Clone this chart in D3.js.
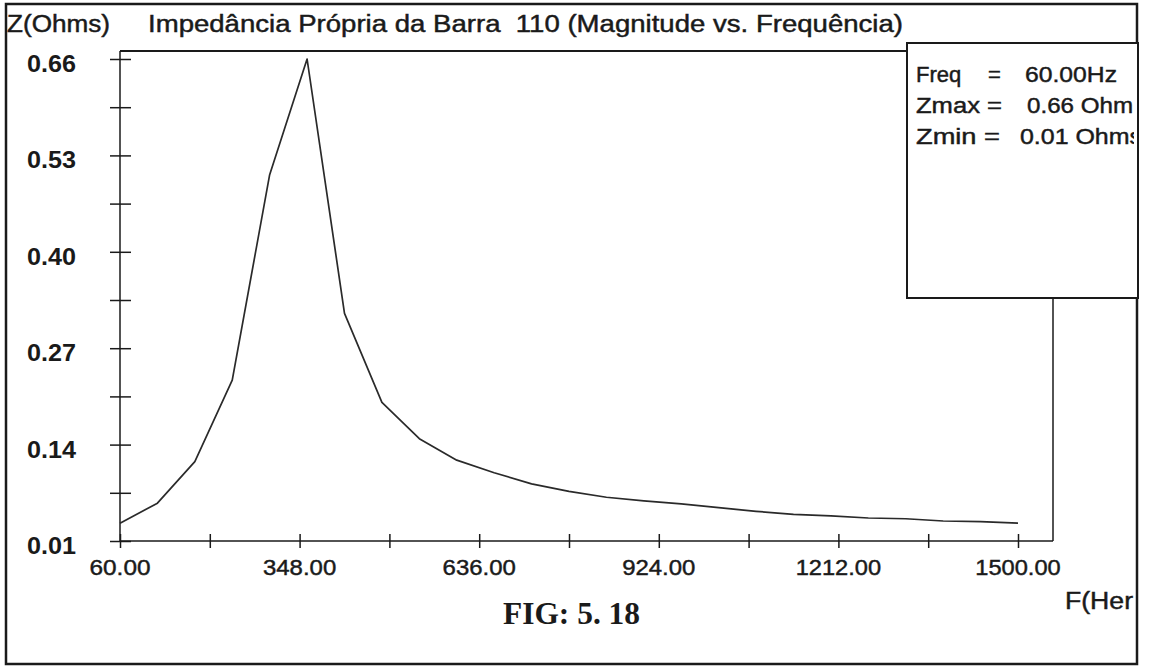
<!DOCTYPE html>
<html><head><meta charset="utf-8">
<script src="https://cdn.jsdelivr.net/npm/d3@7/dist/d3.min.js"></script>
<style>
html,body{margin:0;padding:0;background:#fff;}
svg{display:block;}
text{font-family:"Liberation Sans",Arial,sans-serif;fill:#1a1a1a;white-space:pre;}
.thick{stroke:#1a1a1a;stroke-width:0.45px;}
</style></head>
<body>
<svg id="chart" width="1153" height="668"></svg>
<script>
// ---- data ----
const freqs = [60,120,180,240,300,360,420,480,540,600,660,720,780,840,900,960,1020,1080,1140,1200,1260,1320,1380,1440,1500];
const zvals = [0.034,0.061,0.117,0.227,0.504,0.66,0.317,0.197,0.148,0.119,0.102,0.087,0.077,0.069,0.064,0.060,0.055,0.050,0.046,0.044,0.041,0.040,0.037,0.036,0.034];
const yTickLabels = ["0.01","0.14","0.27","0.40","0.53","0.66"];
const xTickLabels = ["60.00","348.00","636.00","924.00","1212.00","1500.00"];
const titleText = "Impedância Própria da Barra  110 (Magnitude vs. Frequência)";
const yTitle = "Z(Ohms)";
const xTitle = "F(Her";
const figText = "FIG: 5. 18";
const legendRows = [["Freq","=","60.00Hz"],["Zmax =","","0.66 Ohm"],["Zmin =","","0.01 Ohms"]];

const svg = d3.select("#chart");
const ink = "#1a1a1a";

const x = d3.scaleLinear().domain([60,1500]).range([120,1018]);
const y = d3.scaleLinear().domain([0.01,0.66]).range([541,59]);

// outer border
svg.append("rect").attr("x",6).attr("y",4).attr("width",1131).attr("height",660)
  .attr("fill","none").attr("stroke",ink).attr("stroke-width",2.5);

// plot frame: top and right
svg.append("line").attr("x1",120).attr("x2",907).attr("y1",51).attr("y2",51).attr("stroke",ink).attr("stroke-width",2);
svg.append("line").attr("x1",1053).attr("x2",1053).attr("y1",298).attr("y2",541).attr("stroke",ink).attr("stroke-width",1.5);

// y axis
const yTicks = d3.range(11).map(i => 0.01 + i*0.065);
const yAxis = d3.axisLeft(y).tickValues(yTicks).tickSize(0).tickFormat("");
const gy = svg.append("g").attr("transform","translate(120,0)").call(yAxis);
gy.select(".domain").attr("stroke",ink).attr("stroke-width",1.5).attr("d","M0,51V541");
gy.selectAll(".tick line").attr("x1",-10).attr("x2",11).attr("stroke",ink).attr("stroke-width",1.5);
yTickLabels.forEach((t)=>{
  svg.append("text").attr("x",76).attr("y",y(+t)+13).attr("text-anchor","end")
    .attr("font-size",23).attr("font-weight","bold").attr("textLength",49).attr("lengthAdjust","spacingAndGlyphs").text(t);
});

// x axis
const xTicks = d3.range(11).map(i => 60 + i*144);
const xAxis = d3.axisBottom(x).tickValues(xTicks).tickSize(0).tickFormat("");
const gx = svg.append("g").attr("transform","translate(0,541)").call(xAxis);
gx.select(".domain").attr("stroke",ink).attr("stroke-width",1.5).attr("d","M120,0H1053");
gx.selectAll(".tick line").attr("y1",-7).attr("y2",7).attr("stroke",ink).attr("stroke-width",1.5);
xTickLabels.forEach((t)=>{
  svg.append("text").attr("class","thick").attr("x",x(+t)).attr("y",575).attr("text-anchor","middle")
    .attr("font-size",22).attr("textLength",t.length*12.2).attr("lengthAdjust","spacingAndGlyphs").text(t);
});

// curve
const line = d3.line().x((d,i)=>x(freqs[i])).y(d=>y(d));
svg.append("path").datum(zvals).attr("d",line).attr("fill","none")
  .attr("stroke","#2a2a2a").attr("stroke-width",1.7).attr("stroke-linejoin","round");

// titles
svg.append("text").attr("class","thick").attr("x",7).attr("y",32).attr("font-size",23).attr("textLength",103).attr("lengthAdjust","spacingAndGlyphs").text(yTitle);
svg.append("text").attr("class","thick").attr("x",148).attr("y",32).attr("font-size",23).attr("textLength",755).attr("lengthAdjust","spacingAndGlyphs").text(titleText);
svg.append("text").attr("class","thick").attr("x",1065).attr("y",609).attr("font-size",23).attr("textLength",68).attr("lengthAdjust","spacingAndGlyphs").text(xTitle);
svg.append("text").attr("x",503).attr("y",624).attr("font-size",31).attr("font-weight","bold")
  .style("font-family","'Liberation Serif','Times New Roman',serif").attr("textLength",137).attr("lengthAdjust","spacingAndGlyphs").text(figText);

// legend box
svg.append("defs").append("clipPath").attr("id","lc").append("rect").attr("x",907).attr("y",43).attr("width",227).attr("height",255);
svg.append("rect").attr("x",907).attr("y",43).attr("width",231).attr("height",255)
  .attr("fill","#fff").attr("stroke",ink).attr("stroke-width",2);
const lg = svg.append("g").attr("clip-path","url(#lc)");
const rowY = [82,113,144];
lg.append("text").attr("class","thick").attr("x",916).attr("y",rowY[0]).attr("font-size",22).text(legendRows[0][0]);
lg.append("text").attr("class","thick").attr("x",988).attr("y",rowY[0]).attr("font-size",22).text(legendRows[0][1]);
lg.append("text").attr("class","thick").attr("x",1025).attr("y",rowY[0]).attr("font-size",22).attr("textLength",92).attr("lengthAdjust","spacingAndGlyphs").text(legendRows[0][2]);
lg.append("text").attr("class","thick").attr("x",916).attr("y",rowY[1]).attr("font-size",22).attr("textLength",86).attr("lengthAdjust","spacingAndGlyphs").text(legendRows[1][0]);
lg.append("text").attr("class","thick").attr("x",1027).attr("y",rowY[1]).attr("font-size",22).attr("textLength",106).attr("lengthAdjust","spacingAndGlyphs").text(legendRows[1][2]);
lg.append("text").attr("class","thick").attr("x",916).attr("y",rowY[2]).attr("font-size",22).attr("textLength",84).attr("lengthAdjust","spacingAndGlyphs").text(legendRows[2][0]);
lg.append("text").attr("class","thick").attr("x",1020).attr("y",rowY[2]).attr("font-size",22).attr("textLength",122).attr("lengthAdjust","spacingAndGlyphs").text(legendRows[2][2]);
</script>
</body></html>
